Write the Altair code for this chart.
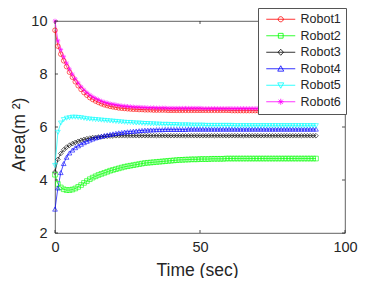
import altair as alt
import pandas as pd

# ---- data ----
time_s = list(range(0, 91))

robot1 = [9.65, 9.05, 8.75, 8.50, 8.28, 8.07, 7.88, 7.71, 7.56, 7.42, 7.30,
          7.20, 7.11, 7.04, 6.98, 6.93, 6.88, 6.84, 6.81, 6.78, 6.76,
          6.74, 6.72, 6.71, 6.70, 6.69, 6.68, 6.67, 6.67, 6.66, 6.66,
          6.65, 6.65, 6.65, 6.64, 6.64, 6.64, 6.64, 6.64, 6.63, 6.63,
          6.63, 6.63, 6.63, 6.63, 6.63, 6.63, 6.63, 6.63, 6.63, 6.63,
          6.63, 6.63, 6.63, 6.63, 6.63, 6.63, 6.63, 6.63, 6.63, 6.63,
          6.62, 6.62, 6.62, 6.62, 6.62, 6.62, 6.62, 6.62, 6.62, 6.62,
          6.62, 6.62, 6.62, 6.62, 6.62, 6.62, 6.62, 6.62, 6.62, 6.62,
          6.62, 6.62, 6.62, 6.62, 6.62, 6.62, 6.62, 6.62, 6.62, 6.62]

robot2 = [4.20, 3.85, 3.72, 3.65, 3.62, 3.62, 3.64, 3.68, 3.74, 3.81, 3.89,
          3.96, 4.03, 4.09, 4.14, 4.19, 4.23, 4.27, 4.31, 4.35, 4.38,
          4.41, 4.44, 4.47, 4.50, 4.52, 4.54, 4.56, 4.58, 4.60, 4.62,
          4.64, 4.65, 4.66, 4.67, 4.68, 4.69, 4.70, 4.71, 4.72, 4.73,
          4.74, 4.75, 4.76, 4.76, 4.77, 4.77, 4.78, 4.78, 4.78, 4.79,
          4.79, 4.79, 4.79, 4.80, 4.80, 4.80, 4.80, 4.80, 4.81, 4.81,
          4.81, 4.81, 4.81, 4.81, 4.81, 4.81, 4.81, 4.81, 4.81, 4.81,
          4.81, 4.81, 4.81, 4.81, 4.81, 4.81, 4.81, 4.81, 4.81, 4.81,
          4.81, 4.81, 4.81, 4.81, 4.81, 4.81, 4.81, 4.81, 4.81, 4.81]

robot3 = [4.30, 4.78, 5.00, 5.14, 5.24, 5.31, 5.37, 5.42, 5.46, 5.50, 5.53,
          5.56, 5.58, 5.60, 5.61, 5.62, 5.63, 5.64, 5.65, 5.66, 5.66,
          5.67, 5.67, 5.67, 5.67, 5.67, 5.67, 5.67, 5.67, 5.67, 5.67,
          5.67, 5.67, 5.67, 5.67, 5.67, 5.67, 5.67, 5.67, 5.67, 5.67,
          5.67, 5.67, 5.67, 5.67, 5.67, 5.67, 5.67, 5.67, 5.67, 5.67,
          5.67, 5.67, 5.67, 5.67, 5.67, 5.67, 5.67, 5.67, 5.67, 5.67,
          5.67, 5.67, 5.67, 5.67, 5.67, 5.67, 5.67, 5.67, 5.67, 5.67,
          5.67, 5.67, 5.67, 5.67, 5.67, 5.67, 5.67, 5.67, 5.67, 5.67,
          5.67, 5.67, 5.67, 5.67, 5.67, 5.67, 5.67, 5.67, 5.67, 5.67]

robot4 = [2.90, 3.70, 4.28, 4.62, 4.86, 5.02, 5.13, 5.22, 5.29, 5.35, 5.41,
          5.46, 5.51, 5.55, 5.59, 5.62, 5.65, 5.68, 5.70, 5.72, 5.74,
          5.76, 5.78, 5.79, 5.81, 5.82, 5.83, 5.84, 5.85, 5.86, 5.87,
          5.88, 5.88, 5.89, 5.89, 5.90, 5.90, 5.90, 5.91, 5.91, 5.91,
          5.91, 5.91, 5.91, 5.91, 5.91, 5.92, 5.92, 5.92, 5.92, 5.92,
          5.92, 5.92, 5.92, 5.92, 5.92, 5.92, 5.92, 5.92, 5.92, 5.92,
          5.92, 5.92, 5.92, 5.92, 5.92, 5.92, 5.92, 5.92, 5.92, 5.92,
          5.92, 5.92, 5.92, 5.92, 5.92, 5.92, 5.92, 5.92, 5.92, 5.92,
          5.92, 5.92, 5.92, 5.92, 5.92, 5.92, 5.92, 5.92, 5.92, 5.92]

robot5 = [4.55, 5.80, 6.15, 6.28, 6.33, 6.35, 6.37, 6.37, 6.36, 6.35, 6.33,
          6.31, 6.30, 6.29, 6.28, 6.27, 6.26, 6.25, 6.24, 6.23, 6.22,
          6.21, 6.20, 6.19, 6.18, 6.17, 6.17, 6.16, 6.15, 6.15, 6.14,
          6.13, 6.13, 6.12, 6.12, 6.11, 6.11, 6.10, 6.10, 6.10, 6.09,
          6.09, 6.09, 6.08, 6.08, 6.08, 6.08, 6.07, 6.07, 6.07, 6.07,
          6.07, 6.06, 6.06, 6.06, 6.06, 6.06, 6.06, 6.06, 6.06, 6.06,
          6.06, 6.05, 6.05, 6.05, 6.05, 6.05, 6.05, 6.05, 6.05, 6.05,
          6.05, 6.05, 6.05, 6.05, 6.05, 6.05, 6.05, 6.05, 6.05, 6.05,
          6.05, 6.05, 6.05, 6.05, 6.05, 6.05, 6.05, 6.05, 6.05, 6.05]

robot6 = [10.00, 9.25, 8.92, 8.65, 8.41, 8.19, 7.99, 7.82, 7.66, 7.52, 7.40,
          7.30, 7.21, 7.14, 7.08, 7.03, 6.98, 6.94, 6.91, 6.88, 6.86,
          6.84, 6.82, 6.80, 6.79, 6.78, 6.77, 6.76, 6.75, 6.75, 6.74,
          6.74, 6.73, 6.73, 6.73, 6.72, 6.72, 6.72, 6.72, 6.71, 6.71,
          6.71, 6.71, 6.71, 6.71, 6.71, 6.71, 6.71, 6.71, 6.71, 6.71,
          6.70, 6.70, 6.70, 6.70, 6.70, 6.70, 6.70, 6.70, 6.70, 6.70,
          6.70, 6.70, 6.70, 6.70, 6.70, 6.70, 6.70, 6.70, 6.70, 6.70,
          6.70, 6.70, 6.70, 6.70, 6.70, 6.70, 6.70, 6.70, 6.70, 6.70,
          6.70, 6.70, 6.70, 6.70, 6.70, 6.70, 6.70, 6.70, 6.70, 6.70]

names = ["Robot1", "Robot2", "Robot3", "Robot4", "Robot5", "Robot6"]
series = [robot1, robot2, robot3, robot4, robot5, robot6]
colors = ["#ff0000", "#00ff00", "#000000", "#0000ff", "#00ffff", "#ff00ff"]

x_ticks = [0, 50, 100]
y_ticks = [2, 4, 6, 8, 10]

# ---- marker shapes ----
plot_shapes = [
    "circle", "square", "diamond", "triangle-up", "triangle-down",
    "M-1,0L1,0M0,-1L0,1M-0.7,-0.7L0.7,0.7M-0.7,0.7L0.7,-0.7",
]
LINE = "M-1,0L8.67,0"
legend_shapes = [
    LINE + "M2.98,0A0.85,0.85 0 1,0 4.68,0A0.85,0.85 0 1,0 2.98,0",
    LINE + "M3.03,-0.8L4.63,-0.8L4.63,0.8L3.03,0.8Z",
    LINE + "M3.83,-1L4.73,0L3.83,1L2.93,0Z",
    LINE + "M3.83,-1L4.83,0.8L2.83,0.8Z",
    LINE + "M3.83,1L4.83,-0.8L2.83,-0.8Z",
    LINE + "M2.83,0L4.83,0M3.83,-1L3.83,1M3.13,-0.7L4.53,0.7M3.13,0.7L4.53,-0.7",
]

rows = []
for name, vals in zip(names, series):
    for t, v in zip(time_s, vals):
        rows.append({"t": t, "area": v, "robot": name})
df = pd.DataFrame(rows)
xt = pd.DataFrame({"v": x_ticks})
yt = pd.DataFrame({"v": y_ticks})

FONT = "Liberation Sans"
TXT = "#262626"
W, H = 290, 212

xscale = alt.Scale(domain=[0, 100], nice=False, zero=False)
yscale = alt.Scale(domain=[2, 10], nice=False, zero=False)

xaxis = alt.Axis(values=x_ticks, ticks=False, tickSize=0, domain=False, grid=False,
                 labelFlush=False, labelPadding=7, labelFontSize=14.5,
                 labelColor=TXT, labelFont=FONT, title="Time (sec)",
                 titleFontSize=17.5, titleFont=FONT, titleColor=TXT,
                 titleFontWeight="normal", titleBaseline="alphabetic",
                 titleY=42, titleX=142)
yaxis = alt.Axis(values=y_ticks, ticks=False, tickSize=0, domain=False, grid=False,
                 labelFlush=False, labelPadding=8, labelFontSize=14.5,
                 labelColor=TXT, labelFont=FONT, title="Area(m ²)",
                 titleFontSize=17.5, titleFont=FONT, titleColor=TXT,
                 titleFontWeight="normal", titleBaseline="alphabetic",
                 titleAngle=270, titleX=-31, titleY=113)

color_plot = alt.Color("robot:N", scale=alt.Scale(domain=names, range=colors), legend=None)
shape_plot = alt.Shape("robot:N", scale=alt.Scale(domain=names, range=plot_shapes), legend=None)

base = alt.Chart(df)
lines = base.mark_line(strokeWidth=0.7).encode(
    x=alt.X("t:Q", scale=xscale, axis=xaxis),
    y=alt.Y("area:Q", scale=yscale, axis=yaxis),
    color=color_plot,
    detail="robot:N",
)
points = base.mark_point(filled=False, size=22, strokeWidth=0.6, opacity=1).encode(
    x=alt.X("t:Q", scale=xscale),
    y=alt.Y("area:Q", scale=yscale),
    color=color_plot,
    shape=shape_plot,
)

legend = alt.Legend(
    title=None, orient="none", legendX=203, legendY=-13,
    fillColor="white", strokeColor="#555555", padding=5,
    labelFont=FONT, labelFontSize=12.5, labelColor=TXT, labelOffset=25,
    symbolSize=36, symbolStrokeWidth=0.8, rowPadding=3.5,
    labelLimit=200,
)
legend_layer = base.transform_filter("datum.t < 0").mark_point(
    filled=False, size=36, strokeWidth=0.8, opacity=1
).encode(
    x=alt.X("t:Q", scale=xscale),
    y=alt.Y("area:Q", scale=yscale),
    color=alt.Color("robot:N", scale=alt.Scale(domain=names, range=colors), legend=legend),
    shape=alt.Shape("robot:N", scale=alt.Scale(domain=names, range=legend_shapes), legend=legend),
)

tick_color = "#262626"
tb = alt.Chart(xt).mark_rule(color=tick_color, strokeWidth=0.8).encode(
    x=alt.X("v:Q", scale=xscale), y=alt.value(H), y2=alt.value(H - 3))
tt = alt.Chart(xt).mark_rule(color=tick_color, strokeWidth=0.8).encode(
    x=alt.X("v:Q", scale=xscale), y=alt.value(0), y2=alt.value(3))
tl = alt.Chart(yt).mark_rule(color=tick_color, strokeWidth=0.8).encode(
    y=alt.Y("v:Q", scale=yscale), x=alt.value(0), x2=alt.value(3))
tr = alt.Chart(yt).mark_rule(color=tick_color, strokeWidth=0.8).encode(
    y=alt.Y("v:Q", scale=yscale), x=alt.value(W), x2=alt.value(W - 3))

chart = alt.layer(lines, points, tb, tt, tl, tr, legend_layer).resolve_scale(
    color="independent", shape="independent"
).resolve_legend(color="independent", shape="independent").properties(
    width=W, height=H,
    autosize=alt.AutoSizeParams(type="none"),
    padding={"left": 47, "top": 13, "right": 29, "bottom": 45},
    background="white",
).configure_view(stroke="#3a3a3a", strokeWidth=0.8)

chart.save("out.html", embed_options={"renderer": "svg", "actions": False})
